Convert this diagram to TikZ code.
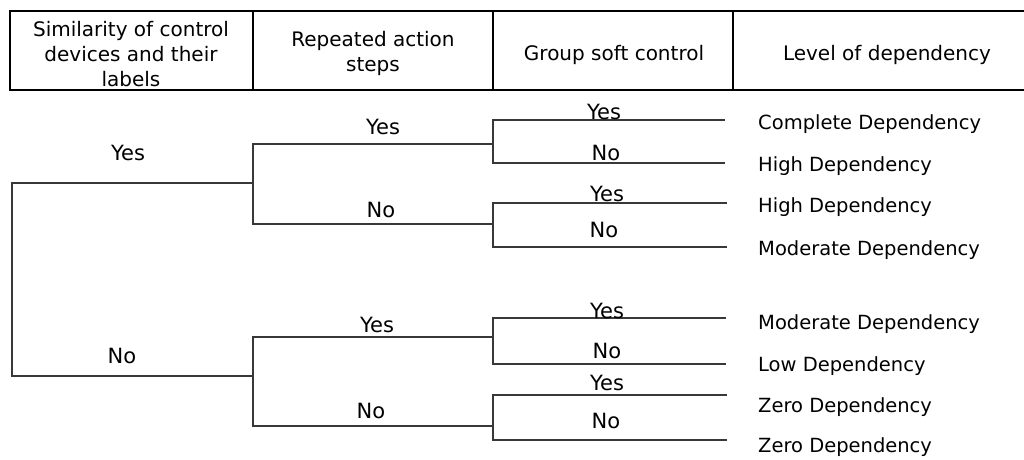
\documentclass[tikz,border=0pt]{standalone}
\usepackage{fontspec}
\setmainfont{DejaVu Sans}
\begin{document}
\begin{tikzpicture}[x=1pt,y=-1pt,
  tree/.style={draw=black!78, line width=1.3pt},
  hdr/.style={draw=black, line width=1.8pt},
  htext/.style={align=center, font=\fontsize{20}{25}\selectfont, inner sep=0pt},
  yn/.style={anchor=base, font=\fontsize{21}{25}\selectfont, inner sep=0pt},
  outc/.style={anchor=base west, font=\fontsize{19.5}{24}\selectfont, inner sep=0pt}]
\useasboundingbox (0,0) rectangle (1024,459);
% header table
\draw[hdr] (1030,11) -- (10,11) -- (10,90) -- (1030,90);
\draw[hdr] (253,11) -- (253,90);
\draw[hdr] (493,11) -- (493,90);
\draw[hdr] (733,11) -- (733,90);
\node[htext] (h1) at (131,54) {Similarity of control\\devices and their\\labels};
\node[htext] (h2) at (373,53) {Repeated action\\steps};
\node[htext] (h3) at (614,55) {Group soft control};
\node[htext] (h4) at (887,55) {Level of dependency};
% tree coordinates
\coordinate (r0) at (12,183);
\coordinate (r1) at (12,376);
\coordinate (a) at (253,183);
\coordinate (a1) at (253,144);
\coordinate (a2) at (253,224);
\coordinate (b) at (253,376);
\coordinate (b1) at (253,337);
\coordinate (b2) at (253,426);
\coordinate (g1) at (493,144);
\coordinate (g2) at (493,224);
\coordinate (g3) at (493,337);
\coordinate (g4) at (493,426);
\coordinate (g1a) at (493,120); \coordinate (e1) at (725,120);
\coordinate (g1b) at (493,163); \coordinate (e2) at (725,163);
\coordinate (g2a) at (493,203); \coordinate (e3) at (727,203);
\coordinate (g2b) at (493,247); \coordinate (e4) at (727,247);
\coordinate (g3a) at (493,318); \coordinate (e5) at (726,318);
\coordinate (g3b) at (493,364); \coordinate (e6) at (726,364);
\coordinate (g4a) at (493,395); \coordinate (e7) at (727,395);
\coordinate (g4b) at (493,440); \coordinate (e8) at (727,440);
% tree lines
\draw[tree] (a) -- (r0) -- (r1) -- (b);
\draw[tree] (g1) -- (a1) -- (a2) -- (g2);
\draw[tree] (g3) -- (b1) -- (b2) -- (g4);
\draw[tree] (e1) -- (g1a) -- (g1b) -- (e2);
\draw[tree] (e3) -- (g2a) -- (g2b) -- (e4);
\draw[tree] (e5) -- (g3a) -- (g3b) -- (e6);
\draw[tree] (e7) -- (g4a) -- (g4b) -- (e8);
% branch labels
\node[yn] (l0y) at (128,160) {Yes};
\node[yn] (l0n) at (122,363) {No};
\node[yn] (l1y) at (383,134) {Yes};
\node[yn] (l1n) at (381,217) {No};
\node[yn] (l2y) at (377,332) {Yes};
\node[yn] (l2n) at (371,418) {No};
\node[yn] (m1y) at (604,119) {Yes};
\node[yn] (m1n) at (606,160) {No};
\node[yn] (m2y) at (607,201) {Yes};
\node[yn] (m2n) at (604,237) {No};
\node[yn] (m3y) at (607,318) {Yes};
\node[yn] (m3n) at (607,358) {No};
\node[yn] (m4y) at (607,390) {Yes};
\node[yn] (m4n) at (606,428) {No};
% outcomes
\node[outc] (o1) at (758,129) {Complete Dependency};
\node[outc] (o2) at (758,171) {High Dependency};
\node[outc] (o3) at (758,212) {High Dependency};
\node[outc] (o4) at (758,255) {Moderate Dependency};
\node[outc] (o5) at (758,329) {Moderate Dependency};
\node[outc] (o6) at (758,371) {Low Dependency};
\node[outc] (o7) at (758,412) {Zero Dependency};
\node[outc] (o8) at (758,452) {Zero Dependency};
\end{tikzpicture}
\end{document}
